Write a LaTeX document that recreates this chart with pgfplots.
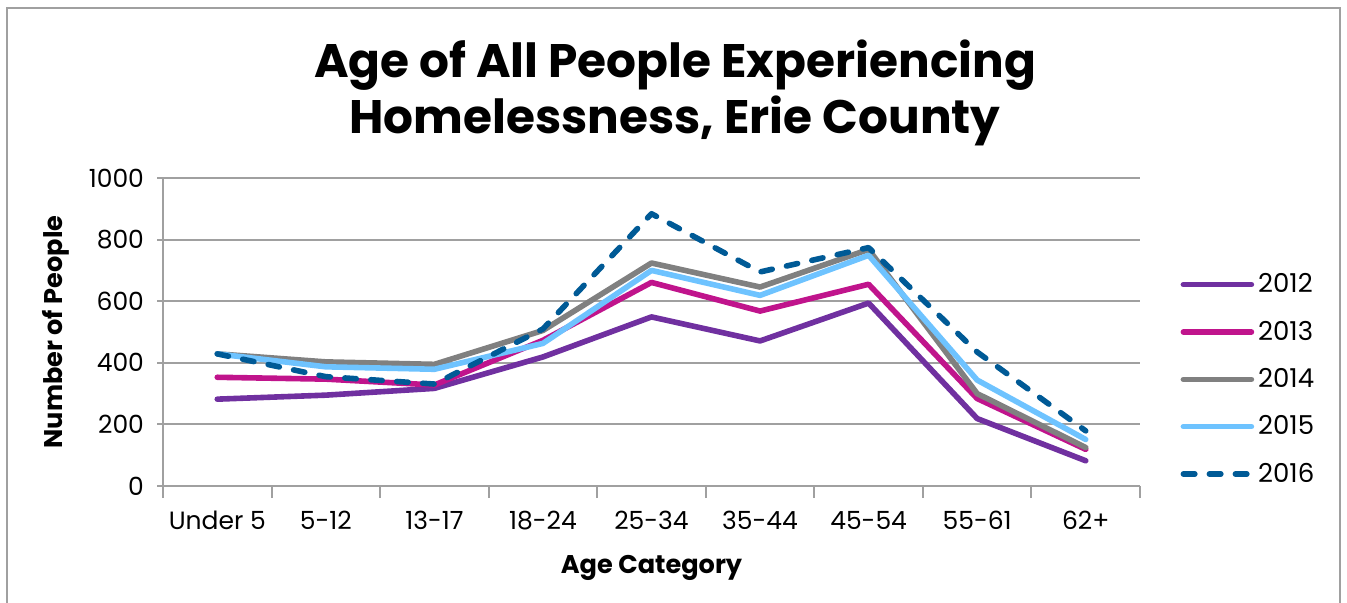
\documentclass[border=0pt]{standalone}
\usepackage{pgfplots}
\pgfplotsset{compat=1.18}
\usepackage{fontspec}
\setmainfont{Poppins}

\definecolor{c12}{HTML}{7030A0}
\definecolor{c13}{HTML}{C0148C}
\definecolor{c14}{HTML}{808080}
\definecolor{c15}{HTML}{6EC3FF}
\definecolor{c16}{HTML}{005A96}
\definecolor{gridgray}{HTML}{A0A0A0}

\begin{document}
\begin{tikzpicture}[x=0.5pt,y=0.5pt]
\useasboundingbox (0,0) rectangle (1347,602);
\draw[gridgray, line width=1pt] (7,-10) rectangle (1340,594);
\node[font=\bfseries\fontsize{23.5}{28}\selectfont, align=center, anchor=center] at (675,509)
  {Age of All People Experiencing\\Homelessness, Erie County};
\begin{axis}[
    at={(81.5pt,58pt)}, anchor=south west,
    scale only axis, width=488.5pt, height=154pt,
    xmin=-0.5, xmax=8.5, ymin=0, ymax=1000,
    xtick={0,...,8},
    xticklabels={Under 5,5-12,13-17,18-24,25-34,35-44,45-54,55-61,62+},
    major x tick style={draw=none},
    minor xtick={-0.5,0.5,...,8.5},
    minor x tick style={gridgray, line width=1pt},
    minor tick length=6pt,
    ytick={0,200,...,1000},
    ymajorgrids, grid style={gridgray, line width=1pt},
    major y tick style={gridgray, line width=1pt},
    major tick length=3pt,
    tick align=outside,
    axis x line*=bottom, axis y line*=left,
    axis line style={gridgray, line width=1pt, -},
    /pgf/number format/assume math mode=true,
    /pgf/number format/1000 sep={},
    ticklabel style={font=\fontsize{12.5}{14}\selectfont},
    xticklabel style={yshift=-6pt},
    yticklabel style={xshift=-3pt},
    xlabel={\bfseries Age Category},
    ylabel={\bfseries Number of People},
    label style={font=\fontsize{12.8}{15}\selectfont},
    xlabel style={yshift=-6pt},
    ylabel style={yshift=3pt},
    legend style={draw=none, at={(1.035,0.717)}, anchor=north west,
      font=\fontsize{13}{15}\selectfont, row sep=8.6pt,
      legend cell align=left},
    legend image code/.code={\draw[#1] (0pt,0pt) -- (34pt,0pt);},
    every axis plot/.append style={line width=2.8pt, line join=round, line cap=round},
  ]
\addplot[c12] coordinates {(0,282) (1,295) (2,317) (3,419) (4,549) (5,471) (6,594) (7,219) (8,82)};
\addplot[c13] coordinates {(0,353) (1,347) (2,328) (3,473) (4,661) (5,568) (6,655) (7,284) (8,119)};
\addplot[c14] coordinates {(0,429) (1,403) (2,395) (3,505) (4,724) (5,646) (6,768) (7,300) (8,125)};
\addplot[c15] coordinates {(0,429) (1,387) (2,379) (3,463) (4,700) (5,619) (6,749) (7,344) (8,151)};
\addplot[c16, dash pattern=on 5.7pt off 7.3pt] coordinates {(0,429) (1,355) (2,331) (3,510) (4,884) (5,695) (6,774) (7,435) (8,179)};
\legend{2012,2013,2014,2015,2016}
\end{axis}
\end{tikzpicture}
\end{document}
